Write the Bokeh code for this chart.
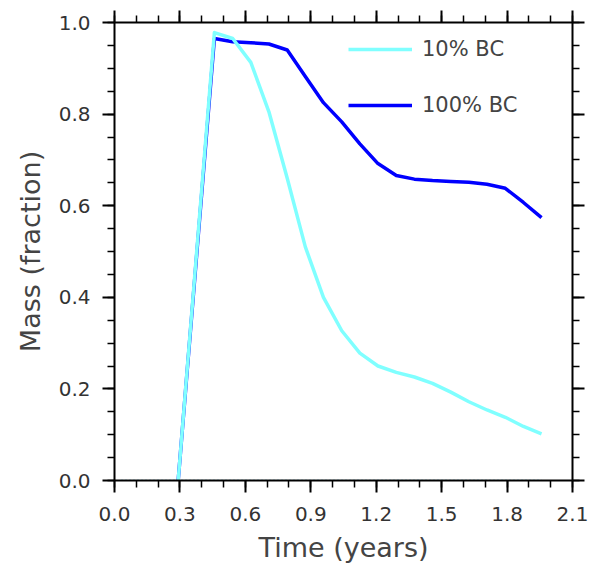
from bokeh.plotting import figure
from bokeh.models import Range1d, LinearAxis, Legend, LegendItem, FixedTicker, PrintfTickFormatter
from bokeh.embed import file_html
from bokeh.resources import INLINE

# ---- data ----
time_bc10 = [0.292, 0.458, 0.542, 0.625, 0.708, 0.792, 0.875, 0.958, 1.042, 1.125,
             1.208, 1.292, 1.375, 1.458, 1.542, 1.625, 1.708, 1.792, 1.875, 1.958]
mass_bc10 = [0.0, 0.978, 0.965, 0.913, 0.805, 0.66, 0.51, 0.40, 0.327, 0.278,
             0.25, 0.236, 0.226, 0.212, 0.193, 0.172, 0.154, 0.138, 0.118, 0.102]
time_bc100 = [0.292, 0.458, 0.542, 0.625, 0.708, 0.792, 0.875, 0.958, 1.042, 1.125,
              1.208, 1.292, 1.375, 1.458, 1.542, 1.625, 1.708, 1.792, 1.875, 1.958]
mass_bc100 = [0.0, 0.965, 0.958, 0.956, 0.953, 0.94, 0.882, 0.825, 0.783, 0.735,
              0.692, 0.666, 0.658, 0.655, 0.653, 0.651, 0.647, 0.638, 0.607, 0.574]
time_zero = [0.03, 1.958]
mass_zero = [0.0, 0.0]
labels = ["10% BC", "100% BC"]
x_ticks = [0.0, 0.3, 0.6, 0.9, 1.2, 1.5, 1.8, 2.1]
y_ticks = [0.0, 0.2, 0.4, 0.6, 0.8, 1.0]
x_minor = [round(i * 0.1, 4) for i in range(22)]
y_minor = [round(i * 0.05, 4) for i in range(21)]

FONT = "DejaVu Sans"
TXT = "#333333"

p = figure(width=594, height=566, output_backend="svg", toolbar_location=None,
           x_range=Range1d(0, 2.1), y_range=Range1d(0, 1.0),
           min_border_left=114, min_border_right=22, min_border_top=22,
           min_border_bottom=86)
p.grid.visible = False
p.outline_line_color = None
p.background_fill_color = "white"
p.border_fill_color = "white"

p.line(time_zero, mass_zero, line_color="#66ccee", line_width=1.5, line_dash="2 2")
r2 = p.line(time_bc100, mass_bc100, line_color="#0000ff", line_width=3.5,
            line_join="round")
r1 = p.line(time_bc10, mass_bc10, line_color="#80ffff", line_width=3.5,
            line_join="round")


def apply(ax, show):
    ax.axis_line_width = 2
    ax.axis_line_color = "black"
    ax.major_tick_line_width = 2
    ax.major_tick_out = 12
    ax.major_tick_in = 0
    ax.minor_tick_line_width = 1.5
    ax.minor_tick_out = 7
    ax.minor_tick_in = 0
    ax.major_label_text_font = FONT
    ax.major_label_text_font_size = "20px"
    ax.major_label_text_color = TXT
    ax.axis_label_text_font = FONT
    ax.axis_label_text_font_size = "27px"
    ax.axis_label_text_font_style = "normal"
    ax.axis_label_text_color = "#444444"
    if show:
        ax.formatter = PrintfTickFormatter(format="%.1f")


for ax in p.xaxis:
    ax.ticker = FixedTicker(ticks=x_ticks, minor_ticks=x_minor)
for ax in p.yaxis:
    ax.ticker = FixedTicker(ticks=y_ticks, minor_ticks=y_minor)
for ax in p.xaxis + p.yaxis:
    apply(ax, True)

p.xaxis.axis_label = "Time (years)"
p.yaxis.axis_label = "Mass (fraction)"
p.xaxis.major_label_standoff = 14
p.yaxis.major_label_standoff = 12
p.xaxis.axis_label_standoff = 8
p.yaxis.axis_label_standoff = 10

top = LinearAxis(ticker=FixedTicker(ticks=x_ticks, minor_ticks=x_minor),
                 major_label_overrides={t: "" for t in x_ticks})
right = LinearAxis(ticker=FixedTicker(ticks=y_ticks, minor_ticks=y_minor),
                   major_label_overrides={t: "" for t in y_ticks})
apply(top, False)
apply(right, False)
top.major_label_standoff = 0
right.major_label_standoff = 0
p.add_layout(top, "above")
p.add_layout(right, "right")

legend = Legend(items=[LegendItem(label=labels[0], renderers=[r1]),
                       LegendItem(label=labels[1], renderers=[r2])],
                location=(234, 363), orientation="vertical",
                background_fill_alpha=0, border_line_color=None,
                padding=0, margin=0, spacing=32,
                glyph_width=64, glyph_height=20, label_height=20,
                label_standoff=10,
                label_text_font=FONT, label_text_font_size="21px",
                label_text_color="#444444")
p.add_layout(legend, "center")

open("out.html", "w").write(file_html(p, INLINE))
